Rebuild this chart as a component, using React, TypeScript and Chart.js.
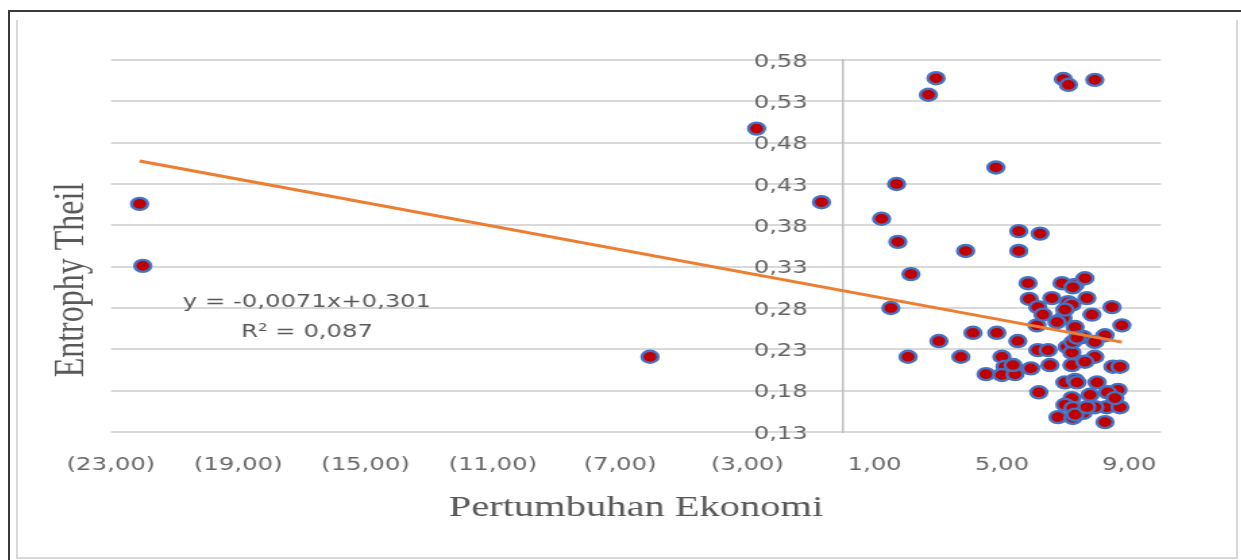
import React, { useEffect, useRef } from "react";
import { Chart, registerables } from "chart.js";

Chart.register(...registerables);

// ---- data ----
const growth = [
  -22.1, -22.0, -6.06, -2.71, -0.67, 1.22, 1.69, 1.73, 1.51, 2.14, 2.05, 2.69, 2.93, 3.02, 3.86, 3.71,
  4.09, 4.81, 4.84, 4.5, 5.0, 5.1, 5.0, 5.41, 5.53, 5.53, 6.2, 5.5, 5.91, 6.93, 7.09, 7.92,
  5.82, 5.86, 6.13, 6.1, 6.16, 6.13, 6.89, 7.3, 6.57, 7.08, 7.2, 6.29, 6.92, 7.3, 6.45, 7.05,
  7.2, 5.35, 6.51, 7.2, 6.98, 7.3, 7.2, 6.98, 7.23, 6.76, 7.23, 7.61, 7.23, 7.67, 8.46, 7.83,
  8.77, 8.24, 7.55, 7.92, 7.23, 7.92, 7.61, 8.49, 8.71, 7.36, 7.99, 8.65, 8.32, 7.77, 8.29, 8.71,
  7.55, 7.92, 7.3, 8.24, 8.55, 7.67, 6.98, 6.73, 7.36,
];
const theil = [
  0.406, 0.331, 0.221, 0.497, 0.408, 0.388, 0.43, 0.36, 0.28, 0.321, 0.221, 0.538, 0.558, 0.24, 0.349, 0.221,
  0.25, 0.45, 0.25, 0.2, 0.221, 0.209, 0.199, 0.2, 0.373, 0.349, 0.37, 0.24, 0.207, 0.557, 0.55, 0.556,
  0.31, 0.291, 0.281, 0.259, 0.178, 0.229, 0.31, 0.308, 0.292, 0.287, 0.284, 0.272, 0.268, 0.257, 0.229, 0.233,
  0.226, 0.211, 0.211, 0.211, 0.19, 0.193, 0.171, 0.163, 0.159, 0.148, 0.147, 0.316, 0.305, 0.292, 0.281, 0.272,
  0.259, 0.247, 0.245, 0.239, 0.239, 0.221, 0.215, 0.209, 0.209, 0.19, 0.19, 0.181, 0.178, 0.175, 0.16, 0.16,
  0.153, 0.16, 0.151, 0.142, 0.171, 0.16, 0.278, 0.263, 0.244,
];
const xTickValues = [-23, -19, -15, -11, -7, -3, 1, 5, 9];
const yTickValues = [0.13, 0.18, 0.23, 0.28, 0.33, 0.38, 0.43, 0.48, 0.53, 0.58];
const xRange = [-23, 10];
const yRange = [0.13, 0.58];
const yAxisCross = 0; // vertical axis line crosses x at 0
const yLabelAnchor = -1.1; // tick labels end just left of the axis line
const trendSlope = -0.0071;
const trendIntercept = 0.301;
const equationLines = ["y = -0,0071x+0,301", "R² = 0,087"];
const equationAnchor = { x: -16.84, y1: 0.287, y2: 0.25 };
const xTitle = "Pertumbuhan Ekonomi";
const yTitle = "Entrophy Theil";

const STRETCH = 1.35;

const fmt = (v: number) => {
  const s = Math.abs(v).toFixed(2).replace(".", ",");
  return v < 0 ? `(${s})` : s;
};

const textPlugin = {
  id: "extraText",
  afterDatasetsDraw(chart: any) {
    const { ctx } = chart;
    const xs = chart.scales.x;
    const ys = chart.scales.y;
    ctx.save();
    ctx.fillStyle = "#595959";
    ctx.textAlign = "center";
    ctx.textBaseline = "middle";
    ctx.font = '18px "DejaVu Sans"';
    const ex = xs.getPixelForValue(equationAnchor.x);
    ctx.fillText(equationLines[0], ex, ys.getPixelForValue(equationAnchor.y1));
    ctx.fillText(equationLines[1], ex, ys.getPixelForValue(equationAnchor.y2));
    ctx.translate(40.7, 260);
    ctx.rotate(-Math.PI / 2);
    ctx.font = '32px "Liberation Serif"';
    ctx.fillText(yTitle, 0, 0);
    ctx.restore();
  },
};

export default function App() {
  const ref = useRef<HTMLCanvasElement | null>(null);

  useEffect(() => {
    if (!ref.current) return;
    const points = growth.map((g, i) => ({ x: g, y: theil[i] }));
    const xMin = Math.min(...growth);
    const xMax = Math.max(...growth);
    const trend = [
      { x: xMin, y: trendIntercept + trendSlope * xMin },
      { x: xMax, y: trendIntercept + trendSlope * xMax },
    ];
    const yTicksHook = (s: any) => {
      s.ticks = yTickValues.map((v) => ({ value: v }));
    };
    const chart = new Chart(ref.current, {
      type: "scatter",
      data: {
        datasets: [
          {
            label: "Linear",
            data: trend,
            showLine: true,
            borderColor: "#ED7D31",
            borderWidth: 3,
            pointRadius: 0,
            order: 0,
          } as any,
          {
            label: "Data",
            data: points,
            backgroundColor: "#C00000",
            borderColor: "#4472C4",
            borderWidth: 2.4,
            pointRadius: 6,
            order: 1,
          },
        ],
      },
      options: {
        animation: false,
        responsive: true,
        maintainAspectRatio: false,
        devicePixelRatio: 1,
        events: [],
        layout: { padding: { left: 69.6, right: 55.6, top: 40, bottom: 25 } },
        plugins: { legend: { display: false }, tooltip: { enabled: false } },
        scales: {
          x: {
            type: "linear",
            min: xRange[0],
            max: xRange[1],
            afterBuildTicks: (s: any) => {
              s.ticks = xTickValues.map((v) => ({ value: v }));
            },
            afterFit: (s: any) => {
              s.height = 100;
            },
            grid: { display: false },
            border: { display: false },
            ticks: {
              callback: (v: any) => fmt(Number(v)),
              font: { family: "DejaVu Sans", size: 18 },
              color: "#666666",
              padding: 15,
              autoSkip: false,
              maxRotation: 0,
            },
            title: {
              display: true,
              text: xTitle,
              color: "#595959",
              font: { family: "Liberation Serif", size: 30 },
              padding: { top: 0, bottom: 6 },
            },
          },
          y: {
            type: "linear",
            position: { x: yAxisCross } as any,
            min: yRange[0],
            max: yRange[1],
            afterBuildTicks: yTicksHook,
            grid: { color: "#d9d9d9", lineWidth: 2, drawTicks: false },
            border: { color: "#bfbfbf", width: 1.5 },
            ticks: { display: false },
          },
          yLabels: {
            type: "linear",
            axis: "y",
            position: { x: yLabelAnchor } as any,
            min: yRange[0],
            max: yRange[1],
            afterBuildTicks: yTicksHook,
            grid: { display: false, drawTicks: false },
            border: { display: false },
            ticks: {
              callback: (v: any) => fmt(Number(v)),
              font: { family: "DejaVu Sans", size: 18 },
              color: "#666666",
              padding: 0,
              labelOffset: 2,
            },
          } as any,
        },
      },
      plugins: [textPlugin],
    });
    return () => chart.destroy();
  }, []);

  return (
    <div
      style={{
        position: "fixed",
        left: 0,
        top: 0,
        width: 1241,
        height: 560,
        overflow: "hidden",
        background: "#ffffff",
      }}
    >
      <div style={{ position: "absolute", left: 8, top: 10, width: 1233, height: 2, background: "#3a3a3a" }} />
      <div style={{ position: "absolute", left: 8, top: 10, width: 2, height: 550, background: "#3a3a3a" }} />
      <div
        style={{
          position: "absolute",
          left: 16,
          top: 20,
          width: 1222,
          height: 539,
          boxSizing: "border-box",
          borderLeft: "2px solid #d9d9d9",
          borderRight: "2px solid #d9d9d9",
          borderBottom: "2px solid #d9d9d9",
        }}
      />
      <div
        style={{
          position: "absolute",
          left: 17,
          top: 20,
          width: 903,
          height: 537,
          transform: `scaleX(${STRETCH})`,
          transformOrigin: "0 0",
        }}
      >
        <canvas ref={ref} />
      </div>
    </div>
  );
}
